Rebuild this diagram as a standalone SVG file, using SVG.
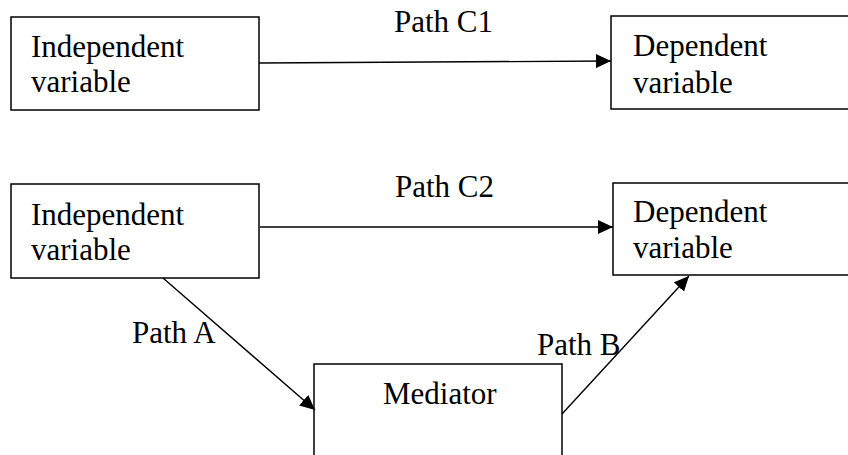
<svg xmlns="http://www.w3.org/2000/svg" width="848" height="455" viewBox="0 0 848 455">
<style>
.box{fill:#fff;stroke:#000;stroke-width:1.5}
.t{font-family:'Liberation Serif','Times New Roman',serif;font-size:31px;fill:#000}
.c{stroke:#000;stroke-width:1.4;fill:none}
</style>
<defs>
<marker id="ah" viewBox="0 0 15 14" refX="15" refY="7" markerWidth="15" markerHeight="14" markerUnits="userSpaceOnUse" orient="auto">
<path d="M0,0 L15,7 L0,14 Z" fill="#000"/>
</marker>
</defs>
<rect width="848" height="455" fill="#fff"/>
<g id="iv1"><rect class="box" x="11" y="17" width="248" height="93"/><text class="t" x="31" y="57">Independent</text><text class="t" x="31" y="92">variable</text></g>
<g id="dv1"><rect class="box" x="611" y="16" width="250" height="93"/><text class="t" x="633" y="56">Dependent</text><text class="t" x="633" y="93">variable</text></g>
<g id="iv2"><rect class="box" x="11" y="184" width="248" height="94"/><text class="t" x="31" y="225">Independent</text><text class="t" x="31" y="260">variable</text></g>
<g id="dv2"><rect class="box" x="613" y="183" width="250" height="92"/><text class="t" x="633" y="222">Dependent</text><text class="t" x="633" y="258">variable</text></g>
<g id="med"><rect class="box" x="314" y="364" width="248" height="110"/><text class="t" x="383" y="404">Mediator</text></g>
<g id="connectors">
<line class="c" x1="259" y1="63" x2="611" y2="61" marker-end="url(#ah)"/>
<line class="c" x1="260" y1="227" x2="613" y2="227" marker-end="url(#ah)"/>
<line class="c" x1="163" y1="278" x2="315" y2="410" marker-end="url(#ah)"/>
<line class="c" x1="562" y1="414" x2="689" y2="276" marker-end="url(#ah)"/>
<text class="t" x="394" y="32">Path C1</text>
<text class="t" x="395" y="197">Path C2</text>
<text class="t" x="132" y="343">Path A</text>
<text class="t" x="537" y="355">Path B</text>
</g>
</svg>
